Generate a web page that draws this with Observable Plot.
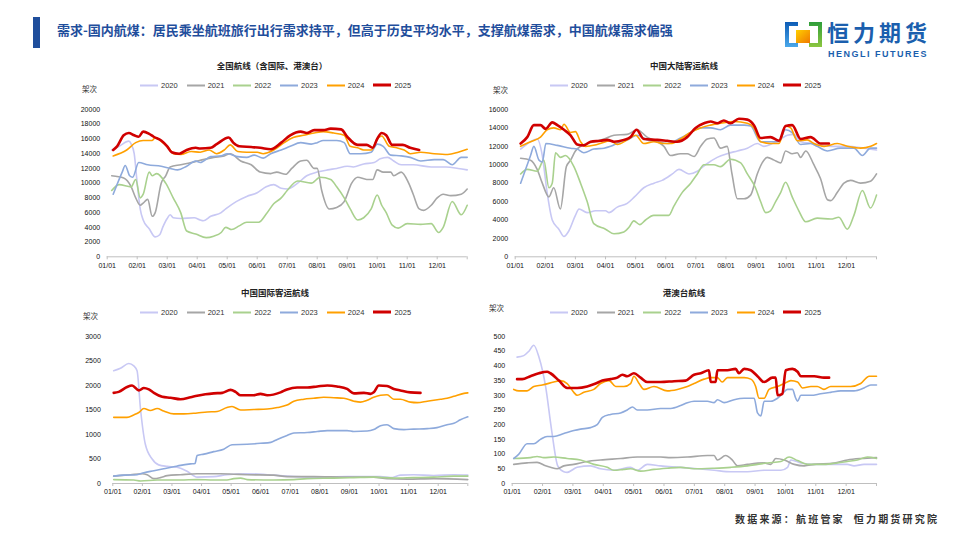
<!DOCTYPE html>
<html><head><meta charset="utf-8">
<script src="https://cdn.jsdelivr.net/npm/d3@7"></script>
<script src="https://cdn.jsdelivr.net/npm/@observablehq/plot@0.6"></script>
<style>
body{margin:0;width:960px;height:540px;background:#fff;position:relative;overflow:hidden;font-family:"Noto Sans CJK SC","Noto Sans",sans-serif;}
.abs{position:absolute;}
.ptitle{position:absolute;transform:translate(-50%,-50%);font-size:8.5px;font-weight:bold;color:#222;white-space:nowrap;}
.unit{position:absolute;font-size:7.5px;color:#333;white-space:nowrap;transform:translateY(-50%);}
.legend{position:absolute;display:flex;transform:translateY(-50%);}
.li{width:46.7px;display:flex;align-items:center;font-family:"Liberation Sans",Arial,sans-serif;font-size:7.5px;color:#333;}
.li span.sw{display:inline-block;width:18px;margin-right:3px;}
</style></head><body>
<div id="root"></div>
<script>
// ---- data ----
const months = ["01/01","02/01","03/01","04/01","05/01","06/01","07/01","08/01","09/01","10/01","11/01","12/01"];
const years = ["2020","2021","2022","2023","2024","2025"];
const colors = ["#c8c8f4","#a6a6a6","#a9d18e","#8eaadc","#ffa000","#d00000"];
const widths = [1.6,1.6,1.6,1.6,1.6,2.6];

// Panel 1: 全国航线 [month position, 架次]
const p1_2020 = [[0.15,14500],[0.4,15000],[0.72,15700],[0.8,15300],[0.9,14000],[1.0,10000],[1.1,6500],[1.2,5000],[1.4,3800],[1.6,2700],[1.75,3000],[1.85,4000],[2.0,5200],[2.1,5700],[2.2,5300],[2.45,5200],[2.9,5300],[3.1,5000],[3.2,4900],[3.45,5500],[3.8,6000],[3.95,6500],[4.3,7500],[4.65,8200],[5.0,8700],[5.3,9500],[5.55,9800],[5.8,9300],[6.0,9200],[6.35,10000],[6.65,11000],[7.0,11500],[7.35,11800],[7.65,12000],[8.0,12300],[8.2,12200],[8.55,12600],[8.9,12800],[9.1,13300],[9.35,13500],[9.55,13000],[9.8,12500],[10.2,12500],[10.8,12200],[11.3,12200],[11.7,12000],[12,11800]];
const p1_2021 = [[0.15,11000],[0.55,10700],[0.8,9500],[0.95,8000],[1.1,7000],[1.2,7300],[1.35,7800],[1.5,5500],[1.6,6000],[1.8,10000],[1.95,11000],[2.1,12200],[2.45,12500],[2.8,12800],[3.1,13100],[3.55,13500],[3.9,13700],[4.1,14000],[4.45,13000],[4.8,12500],[5.1,11500],[5.45,11300],[5.65,11500],[5.95,11200],[6.15,12000],[6.45,13000],[6.65,13100],[6.9,12000],[7.0,12000],[7.15,9000],[7.4,6500],[7.65,6700],[7.9,7500],[8.15,10000],[8.35,10800],[8.65,10500],[8.85,10500],[9.0,11800],[9.2,11500],[9.45,11500],[9.55,11000],[9.8,11500],[10.05,10000],[10.2,8500],[10.4,6500],[10.55,6300],[10.8,7000],[11.0,8000],[11.2,8500],[11.45,8300],[11.8,8500],[12,9200]];
const p1_2022 = [[0.15,9000],[0.4,9800],[0.8,9500],[0.95,10500],[1.1,8000],[1.2,8500],[1.4,11500],[1.5,11000],[1.65,11300],[1.95,10000],[2.2,8000],[2.45,6000],[2.65,3500],[2.95,3100],[3.3,2600],[3.55,2800],[3.8,3300],[3.95,4000],[4.15,3700],[4.4,4200],[4.65,4700],[5.05,4700],[5.3,5800],[5.55,7200],[5.8,8000],[6.0,9000],[6.35,10300],[6.8,10000],[7.1,10800],[7.45,10500],[7.65,9500],[7.9,8000],[8.1,6500],[8.35,5000],[8.55,5300],[8.8,6500],[9.0,8400],[9.15,7000],[9.3,6000],[9.5,4300],[9.7,3900],[10.0,4500],[10.45,4400],[10.8,4500],[11.05,3300],[11.2,4000],[11.5,7500],[11.8,5700],[12,7000]];
const p1_2023 = [[0.2,8500],[0.5,11500],[0.6,12400],[0.75,11000],[0.85,10800],[1.05,12800],[1.35,12500],[1.8,12300],[2.1,12000],[2.35,11800],[2.65,12300],[2.95,13000],[3.1,12800],[3.45,13600],[3.8,13700],[4.0,14000],[4.35,13600],[4.65,13500],[4.9,13800],[5.2,13400],[5.45,14000],[5.8,14500],[6.1,15000],[6.45,15500],[6.8,15300],[7.0,15500],[7.2,15800],[7.65,15800],[7.9,15500],[8.1,14000],[8.45,14000],[8.8,14200],[9.0,15300],[9.2,15000],[9.45,13800],[9.8,13700],[10.1,13500],[10.45,13000],[10.9,13200],[11.2,13200],[11.5,12500],[11.8,13500],[12,13500]];
const p1_2024 = [[0.2,13700],[0.65,14500],[0.95,15500],[1.2,15800],[1.5,15800],[1.6,16200],[1.85,15500],[2.05,14800],[2.2,14000],[2.45,13900],[2.8,14300],[3.1,14200],[3.4,14500],[3.65,14000],[3.9,14500],[4.1,15200],[4.35,14300],[4.65,14200],[5.0,14200],[5.2,14000],[5.55,14500],[5.9,15500],[6.2,16200],[6.55,16500],[6.9,16800],[7.2,17000],[7.55,16800],[7.9,16500],[8.1,15000],[8.35,14800],[8.55,14500],[8.8,14500],[9.0,16000],[9.15,16400],[9.4,15000],[9.65,14800],[9.9,14500],[10.1,14000],[10.45,14200],[10.9,14000],[11.35,13900],[11.7,14200],[12,14600]];
const p1_2025 = [[0.2,14500],[0.33,15000],[0.55,16500],[0.72,16800],[0.9,16500],[1.05,16300],[1.2,17000],[1.4,16700],[1.55,16300],[1.8,15800],[2.0,15000],[2.15,14200],[2.4,14000],[2.65,14500],[2.95,14800],[3.1,14700],[3.45,14800],[3.65,15300],[4.05,16200],[4.2,15500],[4.4,15000],[4.8,14900],[5.1,14800],[5.45,14600],[5.8,15500],[6.1,16500],[6.45,17000],[6.65,16800],[6.9,17200],[7.2,17200],[7.45,17400],[7.8,17300],[8.0,16300],[8.35,15200],[8.65,15200],[8.85,14800],[9.0,16000],[9.15,16800],[9.3,16500],[9.5,15200],[9.85,15200],[10.1,14800],[10.4,14500]];

// Panel 2: 中国大陆客运航线
const p2_2020 = [[0.18,11700],[0.51,12500],[0.73,12800],[0.9,11000],[1.06,7000],[1.23,4000],[1.45,3000],[1.62,2200],[1.78,2800],[2.0,4500],[2.12,5200],[2.39,4800],[2.67,5000],[3.0,5000],[3.11,4800],[3.39,5400],[3.72,5800],[3.96,6500],[4.27,7500],[4.61,8000],[4.88,8300],[5.22,9000],[5.44,9500],[5.77,9000],[6.05,9300],[6.32,10000],[6.71,10800],[7.04,11200],[7.38,11500],[7.71,11800],[8.04,12300],[8.26,12000],[8.59,12400],[8.82,12800],[9.04,13200],[9.26,13300],[9.48,12500],[9.92,12300],[10.48,12000],[11.03,12000],[11.58,11800],[12,11600]];
const p2_2021 = [[0.18,10700],[0.51,10500],[0.73,9500],[0.9,8000],[1.12,6500],[1.28,7500],[1.5,5200],[1.7,9800],[1.84,10500],[2.0,11500],[2.17,12000],[2.61,12500],[2.94,12800],[3.28,13200],[3.72,13300],[4.05,13800],[4.38,13000],[4.72,12500],[4.94,12000],[5.16,11000],[5.49,11200],[5.71,11200],[5.94,10900],[6.16,12000],[6.38,12800],[6.6,12900],[6.82,11800],[7.04,12000],[7.2,9000],[7.38,6300],[7.6,6300],[7.82,6700],[8.04,9000],[8.26,10500],[8.37,10800],[8.6,10500],[8.82,10200],[8.98,11500],[9.2,11200],[9.37,11300],[9.48,10800],[9.65,11500],[9.92,10000],[10.14,8500],[10.37,6200],[10.48,6100],[10.7,7000],[10.92,8000],[11.14,8300],[11.47,8000],[11.8,8200],[12,9000]];
const p2_2022 = [[0.18,9000],[0.4,9500],[0.73,9300],[0.95,10500],[1.12,7500],[1.23,8000],[1.34,11300],[1.5,10800],[1.67,11000],[1.95,9800],[2.17,8000],[2.39,6000],[2.61,3600],[3.0,3000],[3.28,2500],[3.61,2700],[3.78,3200],[3.94,3900],[4.14,3500],[4.33,4000],[4.6,4500],[5.1,4500],[5.27,5500],[5.55,7000],[5.83,8000],[6.05,9000],[6.27,10000],[6.6,10000],[6.82,9800],[7.15,10600],[7.49,10200],[7.71,9000],[7.98,7500],[8.15,6000],[8.32,4800],[8.48,5000],[8.65,6000],[8.82,7000],[8.98,8100],[9.2,6500],[9.42,5000],[9.65,3800],[10.03,4200],[10.48,4100],[10.75,4300],[11.03,3000],[11.25,4500],[11.53,7200],[11.8,5300],[12,6700]];
const p2_2023 = [[0.18,8000],[0.51,11000],[0.62,12000],[0.79,10500],[0.9,10300],[1.02,12300],[1.4,12100],[1.84,11800],[2.06,11700],[2.28,11300],[2.61,11700],[2.95,11800],[3.17,12000],[3.5,12500],[3.72,12700],[4.05,13200],[4.38,12700],[4.72,12500],[5.05,12300],[5.49,12900],[5.83,13500],[6.16,14000],[6.49,14000],[6.82,13800],[7.15,14300],[7.6,14300],[7.82,14200],[8.15,12500],[8.48,12500],[8.76,12500],[8.98,13800],[9.2,13500],[9.48,12200],[9.81,12300],[10.03,12000],[10.37,11500],[10.8,11800],[11.25,11800],[11.53,11000],[11.8,11800],[12,11800]];
const p2_2024 = [[0.18,12000],[0.51,12500],[0.84,13000],[1.06,13800],[1.28,14000],[1.51,13800],[1.62,14400],[1.84,13500],[2.0,13600],[2.17,12500],[2.34,12000],[2.72,12200],[3.17,12600],[3.39,12200],[3.72,12700],[4.0,13200],[4.27,12300],[4.61,12500],[4.94,12300],[5.16,12300],[5.49,12800],[5.82,13500],[6.15,14000],[6.49,14300],[6.82,14500],[7.27,14700],[7.71,14500],[7.93,14000],[8.15,12500],[8.48,12300],[8.76,12300],[8.98,14200],[9.15,14000],[9.37,12600],[9.7,12700],[9.92,12300],[10.26,12000],[10.7,12300],[11.03,12000],[11.48,11800],[11.81,12000],[12,12300]];
const p2_2025 = [[0.18,12300],[0.4,13000],[0.62,14300],[0.84,14300],[1.01,13900],[1.23,14600],[1.4,14300],[1.62,13800],[1.84,13200],[2.06,12200],[2.28,12100],[2.5,12500],[2.83,12600],[3.06,12700],[3.28,12500],[3.61,12700],[3.83,13000],[4.03,13800],[4.27,12800],[4.72,12700],[5.05,12600],[5.38,12500],[5.71,13000],[5.99,14000],[6.27,14500],[6.49,14700],[6.71,14500],[6.93,14800],[7.15,14500],[7.43,15000],[7.71,14900],[7.93,14300],[8.15,12900],[8.48,13000],[8.76,12600],[8.98,14200],[9.2,14300],[9.48,12800],[9.81,13000],[10.15,12300],[10.42,12300]];

// Panel 3: 中国国际客运航线
const p3_2020 = [[0.03,2300],[0.26,2350],[0.54,2450],[0.71,2400],[0.82,2300],[0.94,1500],[1.1,800],[1.33,500],[1.55,380],[1.84,350],[2.17,330],[2.51,250],[2.85,130],[3.41,140],[3.86,180],[4.54,200],[5.22,180],[5.89,150],[6.79,130],[7.92,140],[9.05,140],[9.39,120],[9.72,170],[10.17,180],[10.85,160],[11.53,180],[12,170]];
const p3_2021 = [[0.03,150],[0.6,180],[0.99,200],[1.16,180],[1.39,100],[1.61,120],[1.84,160],[2.29,180],[2.85,200],[3.64,200],[4.09,190],[4.54,180],[5.44,170],[5.89,140],[6.79,140],[7.92,130],[8.82,130],[9.27,100],[9.95,90],[10.85,100],[12,80]];
const p3_2022 = [[0.03,80],[0.71,70],[0.94,50],[1.5,70],[2.29,70],[2.85,80],[3.41,70],[3.86,70],[4.09,100],[4.32,110],[4.54,80],[5.44,70],[6.12,80],[6.57,100],[7.47,110],[8.14,120],[8.82,130],[9.5,110],[10.17,120],[10.85,130],[11.53,150],[12,150]];
const p3_2023 = [[0.03,150],[0.37,170],[0.82,180],[1.05,220],[1.39,260],[1.72,300],[2.06,340],[2.29,370],[2.63,400],[2.78,410],[2.85,570],[3.08,600],[3.41,650],[3.75,700],[4.03,790],[4.54,800],[4.99,820],[5.34,840],[5.56,900],[5.89,980],[6.12,1030],[6.57,1040],[6.91,1060],[7.25,1080],[7.58,1080],[7.92,1080],[8.15,1060],[8.6,1070],[8.82,1100],[9.05,1180],[9.27,1200],[9.5,1120],[9.84,1100],[10.17,1110],[10.63,1120],[10.96,1140],[11.3,1200],[11.53,1230],[11.75,1300],[12,1360]];
const p3_2024 = [[0.03,1350],[0.48,1350],[0.71,1400],[0.88,1450],[1.05,1530],[1.27,1490],[1.5,1530],[1.72,1480],[2.06,1420],[2.4,1420],[2.85,1440],[3.19,1460],[3.53,1470],[3.86,1550],[4.03,1570],[4.32,1500],[4.77,1510],[5.22,1520],[5.56,1550],[5.89,1600],[6.12,1680],[6.46,1720],[6.79,1740],[7.13,1760],[7.47,1750],[7.81,1740],[8.15,1680],[8.37,1660],[8.6,1700],[8.82,1760],[9.05,1800],[9.27,1810],[9.5,1720],[9.72,1720],[10.06,1660],[10.29,1650],[10.63,1680],[10.85,1700],[11.08,1720],[11.3,1740],[11.53,1780],[11.87,1840],[12,1850]];
const p3_2025 = [[0.03,1850],[0.2,1870],[0.48,1970],[0.65,2000],[0.88,1900],[1.05,1950],[1.22,1920],[1.39,1850],[1.67,1770],[1.95,1750],[2.29,1720],[2.63,1760],[2.85,1790],[3.13,1820],[3.41,1840],[3.7,1850],[3.98,1910],[4.15,1870],[4.32,1800],[4.77,1800],[4.99,1830],[5.22,1800],[5.67,1860],[5.89,1920],[6.23,1960],[6.57,1960],[6.91,1980],[7.25,2000],[7.58,1980],[7.92,1930],[8.15,1840],[8.49,1850],[8.71,1830],[8.82,1860],[8.99,2000],[9.27,1990],[9.5,1930],[9.72,1900],[10.06,1860],[10.4,1850]];

// Panel 4: 港澳台航线
const p4_2020 = [[0.16,430],[0.38,435],[0.55,450],[0.71,470],[0.88,430],[1.1,330],[1.3,180],[1.5,60],[1.7,40],[1.81,38],[2.14,55],[2.58,60],[2.91,50],[3.35,45],[3.9,55],[4.12,45],[4.45,65],[4.89,60],[5.55,55],[6.1,50],[6.65,45],[7.2,40],[7.75,40],[8.3,45],[8.85,45],[9.07,55],[9.18,80],[9.51,70],[9.95,65],[10.49,65],[11.04,65],[11.26,60],[11.59,65],[12,65]];
const p4_2021 = [[0.05,65],[0.49,70],[0.82,72],[1.1,60],[1.26,55],[1.48,50],[1.7,60],[2.03,65],[2.47,75],[2.91,80],[3.57,85],[4.12,90],[4.89,90],[5.22,88],[5.77,90],[6.43,95],[6.65,95],[6.76,80],[7.03,95],[7.25,80],[7.42,60],[7.75,65],[8.3,70],[8.52,65],[8.68,85],[8.96,80],[9.29,65],[9.62,60],[9.95,65],[10.6,70],[11.04,80],[11.48,85],[12,88]];
const p4_2022 = [[0.05,85],[0.6,88],[0.82,92],[1.04,88],[1.37,90],[1.81,85],[2.25,80],[2.69,65],[3.13,55],[3.35,45],[3.68,48],[3.9,50],[4.23,42],[4.67,48],[5.11,52],[5.55,55],[5.99,50],[6.65,52],[7.2,55],[7.75,60],[8.08,65],[8.41,70],[8.85,75],[9.12,90],[9.4,78],[9.73,65],[10.27,65],[10.71,70],[11.04,75],[11.37,80],[11.7,90],[12,85]];
const p4_2023 = [[0.05,85],[0.22,100],[0.49,135],[0.71,135],[0.93,150],[1.15,160],[1.37,160],[1.7,170],[2.03,180],[2.25,185],[2.58,190],[2.8,200],[2.97,225],[3.24,235],[3.57,240],[3.79,250],[3.96,260],[4.12,250],[4.45,250],[4.89,255],[5.22,255],[5.55,265],[5.77,275],[5.99,280],[6.43,280],[6.65,275],[6.76,285],[6.98,275],[7.31,285],[7.64,290],[7.97,290],[8.08,240],[8.19,230],[8.3,280],[8.52,280],[8.74,290],[8.9,305],[9.07,320],[9.23,320],[9.34,290],[9.4,280],[9.51,300],[9.84,300],[10.16,305],[10.49,310],[10.82,315],[11.26,315],[11.59,325],[11.81,335],[12,335]];
const p4_2024 = [[0.05,320],[0.22,315],[0.49,315],[0.71,330],[0.99,335],[1.37,345],[1.59,350],[1.81,340],[2.03,310],[2.14,300],[2.36,310],[2.69,320],[2.91,340],[3.19,350],[3.41,330],[3.68,330],[3.9,340],[4.01,365],[4.18,340],[4.34,320],[4.67,330],[5.11,315],[5.44,320],[5.77,330],[5.99,340],[6.32,355],[6.54,360],[6.76,360],[6.92,345],[7.09,360],[7.64,360],[7.86,355],[8.02,330],[8.13,290],[8.3,290],[8.46,320],[8.74,330],[8.96,340],[9.18,350],[9.4,345],[9.56,325],[9.84,330],[10.05,330],[10.27,320],[10.49,330],[10.82,330],[11.15,330],[11.48,340],[11.76,365],[12,365]];
const p4_2025 = [[0.16,355],[0.33,355],[0.6,365],[0.88,375],[1.15,380],[1.26,375],[1.54,350],[1.81,325],[2.14,325],[2.47,330],[2.75,340],[2.97,350],[3.24,355],[3.46,360],[3.63,370],[3.79,365],[4.01,375],[4.23,360],[4.45,345],[4.89,345],[5.33,348],[5.71,350],[5.99,370],[6.21,375],[6.48,385],[6.54,345],[6.7,345],[6.76,385],[7.09,385],[7.36,390],[7.47,375],[7.64,390],[7.86,385],[8.08,365],[8.3,345],[8.57,360],[8.68,360],[8.74,300],[8.9,305],[9.01,385],[9.23,390],[9.4,380],[9.51,365],[9.95,365],[10.27,360],[10.44,360]];

const panels = [
  {title:"全国航线（含国际、港澳台）", series:[p1_2020,p1_2021,p1_2022,p1_2023,p1_2024,p1_2025], yMax:20000, yStep:2000,
   box:{left:80,top:100,width:400,height:175,ml:26.7,mr:13.3,mt:9,mb:18.7,pad:7}, titlePos:[272,65], legendPos:[140,85], unitPos:[82,88]},
  {title:"中国大陆客运航线", series:[p2_2020,p2_2021,p2_2022,p2_2023,p2_2024,p2_2025], yMax:16000, yStep:2000,
   box:{left:480,top:100,width:420,height:175,ml:34.7,mr:24,mt:9,mb:18.7,pad:7}, titlePos:[684,65], legendPos:[550,85], unitPos:[493,89]},
  {title:"中国国际客运航线", series:[p3_2020,p3_2021,p3_2022,p3_2023,p3_2024,p3_2025], yMax:3000, yStep:500,
   box:{left:80,top:320,width:400,height:180,ml:32.3,mr:12.7,mt:16,mb:17,pad:12}, titlePos:[275,292], legendPos:[140,312], unitPos:[83,315]},
  {title:"港澳台航线", series:[p4_2020,p4_2021,p4_2022,p4_2023,p4_2024,p4_2025], yMax:500, yStep:50,
   box:{left:480,top:320,width:420,height:180,ml:31.7,mr:24,mt:16,mb:17,pad:7}, titlePos:[684,292], legendPos:[550,312], unitPos:[489,307]}
];

const root = document.getElementById("root");
function addDiv(cls, html, style){ const d=document.createElement("div"); d.className=cls; d.innerHTML=html; Object.assign(d.style, style); root.appendChild(d); return d; }

// Header
addDiv("abs","",{left:"33px",top:"17px",width:"7px",height:"31px",background:"#1f4e9c"});
addDiv("abs","需求-国内航煤：居民乘坐航班旅行出行需求持平，但高于历史平均水平，支撑航煤需求，中国航煤需求偏强",
  {left:"57px",top:"21px",fontSize:"13px",fontWeight:"bold",color:"#1f4e9c",whiteSpace:"nowrap",lineHeight:"18px"});
// Logo
const logo = addDiv("abs","",{left:"785px",top:"22px",width:"37px",height:"25px"});
logo.innerHTML = `<svg width="37" height="25">
<defs>
<linearGradient id="lo" x1="0" y1="0" x2="1" y2="1"><stop offset="0" stop-color="#ffd000"/><stop offset="1" stop-color="#f07800"/></linearGradient>
<linearGradient id="lb" x1="0" y1="0" x2="0" y2="1"><stop offset="0" stop-color="#0d5cb6"/><stop offset="1" stop-color="#4aa8ea"/></linearGradient>
<linearGradient id="lgr" x1="0" y1="0" x2="0" y2="1"><stop offset="0" stop-color="#2f9e3a"/><stop offset="1" stop-color="#8cc63f"/></linearGradient>
</defs>
<path d="M0 0 H13 V4 H4 V21 H13 V25 H0 Z" fill="url(#lb)"/>
<path d="M37 0 H24 V4 H33 V21 H24 V25 H37 Z" fill="url(#lgr)"/>
<rect x="11" y="8" width="14" height="13" fill="url(#lo)"/>
</svg>`;
addDiv("abs","恒力期货",{left:"827px",top:"18px",fontSize:"22px",fontWeight:"bold",color:"#1b5fae",letterSpacing:"4px",whiteSpace:"nowrap",lineHeight:"26px"});
addDiv("abs","HENGLI FUTURES",{left:"828px",top:"49px",fontSize:"9px",fontWeight:"bold",color:"#1b5fae",fontFamily:"Liberation Sans, Arial",letterSpacing:"1.5px",whiteSpace:"nowrap",lineHeight:"10px"});
// Footer
addDiv("abs","数据来源：航班管家&nbsp;&nbsp;恒力期货研究院",{left:"735px",top:"511px",fontSize:"10px",fontWeight:"bold",color:"#333",letterSpacing:"2.2px",whiteSpace:"nowrap",lineHeight:"16px"});

for (const p of panels) {
  const b = p.box;
  addDiv("ptitle", p.title, {left:p.titlePos[0]+"px", top:p.titlePos[1]+"px"});
  addDiv("unit", "架次", {left:p.unitPos[0]+"px", top:p.unitPos[1]+"px"});
  const lg = addDiv("legend","",{left:p.legendPos[0]+"px", top:p.legendPos[1]+"px"});
  years.forEach((y,i)=>{
    const it=document.createElement("div"); it.className="li";
    it.innerHTML=`<span class="sw" style="height:${i===5?2.5:2}px;background:${colors[i]}"></span>${y}`;
    lg.appendChild(it);
  });
  const yTicks = d3.range(0, p.yMax + 1, p.yStep);
  const marks = [
    Plot.ruleY([0], {stroke:"#bfbfbf", strokeWidth:1}),
    Plot.axisY(yTicks, {tickSize:0, tickPadding:p.box.pad, fontSize:7, fill:"#111", tickFormat:d3.format("d")}),
    Plot.axisX(d3.range(0,13), {tickSize:3, tickPadding:3, stroke:"#bfbfbf", fontSize:7, fill:"#111", tickFormat:(d)=> d<12 ? months[d] : ""})
  ];
  p.series.forEach((s,i)=>{
    marks.push(Plot.line(s, {x:d=>d[0], y:d=>d[1], stroke:colors[i], strokeWidth:widths[i], curve:"monotone-x", strokeLinejoin:"round"}));
  });
  const chart = Plot.plot({
    width:b.width, height:b.height,
    marginLeft:b.ml, marginRight:b.mr, marginTop:b.mt, marginBottom:b.mb,
    x:{domain:[0,12], axis:null},
    y:{domain:[0,p.yMax], axis:null},
    style:{fontFamily:"Liberation Sans, Arial, sans-serif", fontSize:"7px", background:"transparent", color:"#111", overflow:"visible"},
    marks
  });
  chart.style.position="absolute";
  chart.style.left=b.left+"px";
  chart.style.top=b.top+"px";
  root.appendChild(chart);
}
</script>
</body></html>
